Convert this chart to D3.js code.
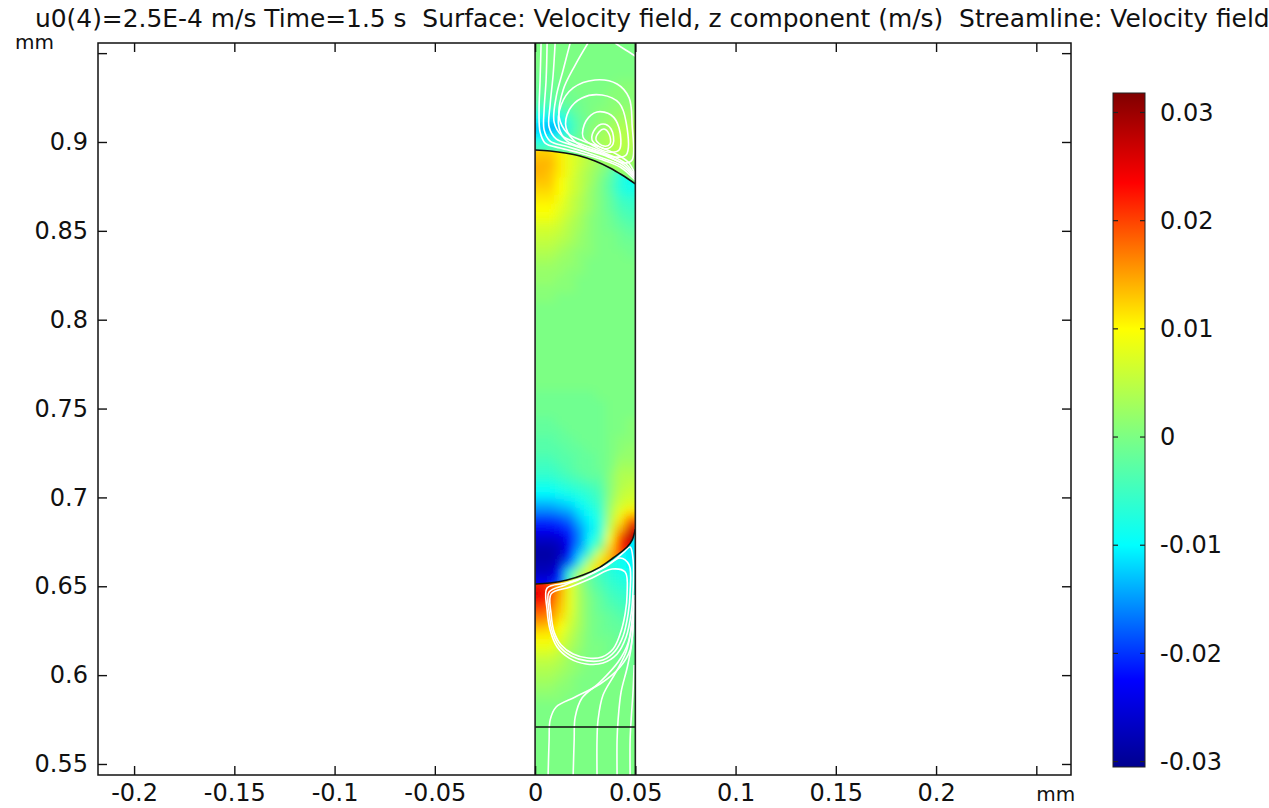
<!DOCTYPE html>
<html>
<head>
<meta charset="utf-8">
<script src="https://cdn.jsdelivr.net/npm/d3@7"></script>
<style>
    body { margin: 0; background: #fff; }
    svg { display: block; font-family: "DejaVu Sans", sans-serif; }
</style>
</head>
<body>
<svg id="chart" width="1269" height="808"></svg>
<script>
// axis limits and ticks (mm)
const xDomain = [-0.218, 0.2673];
const yDomain = [0.5438, 0.9557];
const xTicks = [-0.2, -0.15, -0.1, -0.05, 0, 0.05, 0.1, 0.15, 0.2, 0.25];
const xTickLabels = ['-0.2', '-0.15', '-0.1', '-0.05', '0', '0.05', '0.1', '0.15', '0.2', ''];
const yTicks = [0.55, 0.6, 0.65, 0.7, 0.75, 0.8, 0.85, 0.9, 0.95];
const yTickLabels = ['0.55', '0.6', '0.65', '0.7', '0.75', '0.8', '0.85', '0.9', ''];

// colour legend (m/s)
const colorTicks = [-0.03, -0.02, -0.01, 0, 0.01, 0.02, 0.03];
const colorStops = [-0.0305, -0.0225, -0.01, 0, 0.01, 0.0235, 0.0318];
const colorRange = ['#00008f', '#0000ff', '#00ffff', '#7cff84', '#ffff00', '#ff0000', '#800000'];

const titleText = 'u0(4)=2.5E-4 m/s Time=1.5 s  Surface: Velocity field, z component (m/s)  Streamline: Velocity field';

// geometry (mm)
const channelX = [0, 0.05];
const upperInterface = [[0, 0.8955], [0.0075, 0.8949], [0.015, 0.8938], [0.0224, 0.8921], [0.0299, 0.8893], [0.0374, 0.8854], [0.0434, 0.8814], [0.05, 0.8764]];
const lowerInterface = [[0, 0.6513], [0.0075, 0.6518], [0.016, 0.6535], [0.0239, 0.6563], [0.0324, 0.6608], [0.0389, 0.6659], [0.0459, 0.6721], [0.0484, 0.676], [0.05, 0.6822]];
const baseLineY = 0.5708;

// w (z velocity) sampled on cells, unit 1e-3 m/s; columns at these x centres
const cellCols = [0.0025, 0.0075, 0.0125, 0.0175, 0.0225, 0.0275, 0.0325, 0.0375, 0.0425, 0.0475];
const cellH = 0.005;

const topRows = [0.9375, 0.9325, 0.9275, 0.9225, 0.9175, 0.9125, 0.9075, 0.9025, 0.8975, 0.8925, 0.8875, 0.8825, 0.8775];
const topVals = [
    [-1, -1, 0, 0, 0, 0, 0, 0, 0, 0],
    [-1, -1, -1, 0, 0, 0, 0, 0, 1, 1],
    [-2, -2, -1, -1, 0, 0, 0, 1, 1, 1],
    [-3, -3, -2, -1, -1, 0, 0, 1, 1, 1],
    [-6, -7, -5, -3, -1, 0, 1, 1, 2, 2],
    [-10, -12, -10, -5, -2, 0, 1, 2, 3, 3],
    [-13, -15, -13, -6, -2, 1, 2, 3, 4, 4],
    [-10, -10, -7, -4, -1, 1, 3, 4, 5, 4],
    [-5, -4, -3, -2, 0, 2, 3, 4, 5, 4],
    [-3, -2, -1, -1, 0, 1, 2, 3, 4, 3],
    [-2, -1, 0, 0, 0, 1, 2, 3, 3, 2],
    [0, 0, 0, 0, 0, 0, 1, 2, 2, 1],
    [0, 0, 0, 0, 0, 0, 0, 1, 1, 0]
];

const midRows = [0.8975, 0.8925, 0.8875, 0.8825, 0.8775, 0.8725, 0.8675, 0.8625, 0.8575, 0.8525, 0.8475, 0.8425, 0.8375, 0.8325, 0.8275, 0.8225, 0.8175, 0.8125,
    0.7575, 0.7525, 0.7475, 0.7425, 0.7375, 0.7325, 0.7275, 0.7225, 0.7175, 0.7125, 0.7075, 0.7025, 0.6975, 0.6925, 0.6875, 0.6825, 0.6775, 0.6725, 0.6675, 0.6625, 0.6575, 0.6525, 0.6475];
const midVals = [
    [12, 12, 10, 8, 6, 5, 3, 2, 0, -2],
    [13, 13, 11, 8, 6, 4, 3, 1, -2, -4],
    [14, 14, 11, 8, 6, 4, 2, 0, -4, -6],
    [14, 13, 11, 8, 5, 3, 1, -2, -7, -8],
    [13, 13, 10, 7, 5, 3, 0, -3, -7, -9],
    [12, 12, 10, 7, 5, 2, 0, -3, -7, -8],
    [11, 11, 9, 6, 4, 2, 0, -2, -5, -6],
    [10, 10, 8, 6, 4, 2, 0, -2, -4, -5],
    [9, 9, 7, 5, 3, 1, 0, -1, -3, -4],
    [7, 7, 6, 4, 3, 1, 0, -1, -2, -3],
    [6, 6, 5, 4, 2, 1, 0, 0, -1, -2],
    [5, 5, 4, 3, 2, 1, 0, 0, -1, -1],
    [4, 4, 3, 2, 1, 1, 0, 0, 0, -1],
    [3, 3, 2, 2, 1, 0, 0, 0, 0, 0],
    [2, 2, 2, 1, 1, 0, 0, 0, 0, 0],
    [2, 2, 1, 1, 0, 0, 0, 0, 0, 0],
    [1, 1, 1, 1, 0, 0, 0, 0, 0, 0],
    [1, 1, 0, 0, 0, 0, 0, 0, 0, 0],
    [-1, -1, -1, -1, -1, -1, 0, 0, 0, 0],
    [-1, -1, -1, -1, -1, -1, -1, 0, 0, 0],
    [-1, -1, -1, -1, -1, -1, -1, 0, 0, 0],
    [-2, -2, -1, -1, -1, -1, -1, 0, 0, 1],
    [-2, -2, -2, -1, -1, -1, -1, 0, 0, 1],
    [-3, -3, -2, -2, -1, -1, -1, 0, 1, 1],
    [-3, -3, -3, -2, -2, -1, -1, 0, 1, 2],
    [-4, -4, -3, -3, -2, -2, -1, 0, 2, 2],
    [-5, -5, -4, -3, -2, -2, -1, 0, 3, 3],
    [-6, -6, -5, -4, -3, -2, -2, 1, 4, 4],
    [-8, -8, -7, -6, -5, -4, -3, 1, 4, 5],
    [-10, -10, -9, -8, -7, -6, -4, 1, 5, 6],
    [-13, -13, -12, -11, -9, -7, -5, 2, 6, 7],
    [-16, -16, -15, -14, -11, -9, -6, 3, 8, 11],
    [-20, -20, -19, -17, -13, -10, -7, 4, 11, 18],
    [-23, -23, -22, -20, -15, -11, -7, 6, 14, 26],
    [-26, -26, -25, -22, -16, -10, -5, 9, 20, 28],
    [-28, -28, -27, -23, -15, -8, -1, 12, 22, 26],
    [-29, -29, -27, -21, -12, -3, 8, 14, 20, 22],
    [-28, -28, -26, -17, -6, 6, 12, 14, 16, 16],
    [-27, -27, -22, -6, 4, 8, 12, 12, 14, 14],
    [-24, -24, -20, -4, 6, 8, 10, 10, 12, 12],
    [-22, -22, -16, -2, 6, 8, 10, 10, 12, 12]
];

const lowRows = [0.6875, 0.6825, 0.6775, 0.6725, 0.6675, 0.6625, 0.6575, 0.6525, 0.6475, 0.6425, 0.6375, 0.6325, 0.6275, 0.6225, 0.6175, 0.6125, 0.6075, 0.6025, 0.5975, 0.5925, 0.5875];
const lowVals = [
    [0, 0, 0, 0, 0, 0, 0, 0, -8, -10],
    [10, 10, 8, 4, 0, -2, -4, -6, -8, -10],
    [12, 12, 9, 5, 0, -3, -5, -7, -9, -11],
    [14, 14, 10, 5, 0, -3, -5, -7, -9, -11],
    [16, 15, 11, 6, 1, -3, -5, -7, -9, -11],
    [18, 17, 12, 6, 1, -3, -5, -7, -9, -10],
    [20, 19, 13, 7, 2, -2, -5, -7, -8, -9],
    [22, 20, 14, 8, 2, -2, -4, -6, -7, -8],
    [25, 22, 15, 8, 3, -1, -3, -5, -6, -7],
    [24, 21, 14, 8, 3, 0, -2, -4, -5, -6],
    [20, 18, 13, 8, 3, 0, -2, -3, -4, -5],
    [17, 16, 12, 7, 3, 0, -1, -2, -3, -4],
    [14, 13, 10, 6, 3, 0, -1, -2, -2, -3],
    [11, 11, 8, 5, 2, 0, -1, -1, -2, -2],
    [9, 9, 7, 4, 2, 0, 0, -1, -1, -2],
    [7, 7, 5, 3, 1, 0, 0, -1, -1, -1],
    [5, 5, 4, 2, 1, 0, 0, 0, -1, -1],
    [4, 4, 3, 2, 1, 0, 0, 0, 0, -1],
    [3, 3, 2, 1, 0, 0, 0, 0, 0, 0],
    [2, 2, 1, 1, 0, 0, 0, 0, 0, 0],
    [1, 1, 1, 0, 0, 0, 0, 0, 0, 0]
];

// streamlines (mm)
const openLines = [
    [[0.0030, 0.9557], [0.0025, 0.9349], [0.0020, 0.9180], [0.0025, 0.9056], [0.0050, 0.8994], [0.0125, 0.8966], [0.0224, 0.8938], [0.0324, 0.8904], [0.0424, 0.8859], [0.0499, 0.8786]],
    [[0.0060, 0.9557], [0.0055, 0.9349], [0.0045, 0.9180], [0.0045, 0.9068], [0.0075, 0.9005], [0.0150, 0.8977], [0.0249, 0.8944], [0.0349, 0.8904], [0.0434, 0.8865], [0.0499, 0.8797]],
    [[0.0100, 0.9557], [0.0090, 0.9377], [0.0075, 0.9208], [0.0070, 0.9084], [0.0105, 0.9017], [0.0185, 0.8983], [0.0274, 0.8949], [0.0364, 0.8916], [0.0444, 0.8871], [0.0499, 0.8803]],
    [[0.0175, 0.9557], [0.0140, 0.9405], [0.0105, 0.9253], [0.0095, 0.9112], [0.0135, 0.9034], [0.0214, 0.8994], [0.0299, 0.8961], [0.0384, 0.8921], [0.0454, 0.8876], [0.0499, 0.8809]],
    [[0.0264, 0.9557], [0.0200, 0.9433], [0.0140, 0.9293], [0.0120, 0.9141], [0.0160, 0.9051], [0.0239, 0.9005], [0.0324, 0.8972], [0.0404, 0.8933], [0.0464, 0.8887], [0.0499, 0.8820]],
    [[0.0399, 0.9557], [0.0444, 0.9523], [0.0499, 0.9484]],
    [[0.0065, 0.5438], [0.0070, 0.5635], [0.0075, 0.5747], [0.0105, 0.5821], [0.0200, 0.5877], [0.0324, 0.5950], [0.0424, 0.6046], [0.0474, 0.6142], [0.0489, 0.6282], [0.0494, 0.6423]],
    [[0.0190, 0.5438], [0.0195, 0.5635], [0.0200, 0.5764], [0.0234, 0.5871], [0.0324, 0.5961], [0.0414, 0.6074], [0.0464, 0.6181], [0.0484, 0.6310], [0.0494, 0.6451]],
    [[0.0309, 0.5438], [0.0309, 0.5635], [0.0314, 0.5747], [0.0339, 0.5888], [0.0404, 0.6018], [0.0454, 0.6130], [0.0479, 0.6254], [0.0494, 0.6395]],
    [[0.0409, 0.5438], [0.0409, 0.5635], [0.0414, 0.5747], [0.0429, 0.5905], [0.0459, 0.6040], [0.0479, 0.6153], [0.0489, 0.6282]],
    [[0.0474, 0.5438], [0.0474, 0.5635], [0.0479, 0.5747], [0.0489, 0.5916], [0.0494, 0.6057]]
];
const closedLines = [
    [[0.0120, 0.9079], [0.0130, 0.9208], [0.0190, 0.9304], [0.0299, 0.9349], [0.0409, 0.9326], [0.0469, 0.9248], [0.0484, 0.9096], [0.0484, 0.8899], [0.0444, 0.8882], [0.0349, 0.8927], [0.0249, 0.8966], [0.0160, 0.9005]],
    [[0.0155, 0.9079], [0.0170, 0.9180], [0.0234, 0.9248], [0.0334, 0.9264], [0.0419, 0.9219], [0.0454, 0.9112], [0.0454, 0.8927], [0.0394, 0.8916], [0.0304, 0.8949], [0.0214, 0.8989]],
    [[0.0239, 0.9028], [0.0254, 0.9118], [0.0309, 0.9169], [0.0379, 0.9152], [0.0419, 0.9079], [0.0419, 0.8955], [0.0364, 0.8944], [0.0294, 0.8977]],
    [[0.0284, 0.9011], [0.0299, 0.9073], [0.0339, 0.9101], [0.0379, 0.9073], [0.0389, 0.8989], [0.0354, 0.8961]],
    [[0.0304, 0.9011], [0.0319, 0.9056], [0.0344, 0.9073], [0.0369, 0.9045], [0.0374, 0.8989], [0.0344, 0.8977]],
    [[0.0060, 0.6490], [0.0060, 0.6367], [0.0075, 0.6254], [0.0110, 0.6158], [0.0170, 0.6096], [0.0254, 0.6063], [0.0339, 0.6068], [0.0409, 0.6119], [0.0454, 0.6214], [0.0479, 0.6344], [0.0489, 0.6479], [0.0489, 0.6648], [0.0474, 0.6721], [0.0444, 0.6693], [0.0384, 0.6637], [0.0314, 0.6591], [0.0234, 0.6547], [0.0155, 0.6518]],
    [[0.0070, 0.6468], [0.0070, 0.6355], [0.0085, 0.6248], [0.0120, 0.6164], [0.0180, 0.6108], [0.0259, 0.6080], [0.0339, 0.6085], [0.0399, 0.6136], [0.0439, 0.6220], [0.0464, 0.6344], [0.0474, 0.6468], [0.0469, 0.6620], [0.0424, 0.6659], [0.0349, 0.6608], [0.0249, 0.6552], [0.0150, 0.6507]],
    [[0.0080, 0.6457], [0.0080, 0.6344], [0.0095, 0.6243], [0.0130, 0.6170], [0.0190, 0.6119], [0.0264, 0.6096], [0.0334, 0.6102], [0.0389, 0.6147], [0.0424, 0.6231], [0.0449, 0.6344], [0.0459, 0.6457], [0.0449, 0.6580], [0.0384, 0.6597], [0.0284, 0.6547], [0.0175, 0.6496]]
];

const svg = d3.select('#chart');
const plot = { left: 98, right: 1071, top: 43, bottom: 775 };
const bar = { left: 1113, right: 1145, top: 93, bottom: 767 };

const x = d3.scaleLinear().domain(xDomain).range([plot.left, plot.right]);
const y = d3.scaleLinear().domain(yDomain).range([plot.bottom, plot.top]);
const color = d3.scaleLinear().domain(colorStops).range(colorRange).interpolate(d3.interpolateRgb).clamp(true);

const defs = svg.append('defs');
const soften = defs.append('filter').attr('id', 'soften').attr('x', '-10%').attr('y', '-10%').attr('width', '120%').attr('height', '120%');
soften.append('feGaussianBlur').attr('stdDeviation', 5);

defs.append('clipPath').attr('id', 'clip-channel').append('rect')
    .attr('x', x(channelX[0])).attr('y', plot.top)
    .attr('width', x(channelX[1]) - x(channelX[0])).attr('height', plot.bottom - plot.top);

const ifLine = d3.line().x(d => x(d[0])).y(d => y(d[1])).curve(d3.curveCatmullRom.alpha(0.5));
const upperPath = ifLine(upperInterface);
const lowerPath = ifLine(lowerInterface);
const lowerBack = ifLine(lowerInterface.slice().reverse()).replace(/^M/, 'L');

const zones = [
    { name: 'top', rows: topRows, vals: topVals, clip: `${upperPath}L${x(channelX[1])},${y(yDomain[1])}L${x(channelX[0])},${y(yDomain[1])}Z` },
    { name: 'mid', rows: midRows, vals: midVals, clip: `${upperPath}${lowerBack}Z` },
    { name: 'low', rows: lowRows, vals: lowVals, clip: `${lowerPath}L${x(channelX[1])},${y(yDomain[0])}L${x(channelX[0])},${y(yDomain[0])}Z` }
];

const last = cellCols.length - 1;
const cellW = cellCols[1] - cellCols[0];
const cellX0 = j => x(j === 0 ? -0.01 : cellCols[j] - cellW / 2);
const cellX1 = j => x(j === last ? 0.06 : cellCols[j] + cellW / 2);

zones.forEach(zone => {
    defs.append('clipPath').attr('id', `clip-${zone.name}`).append('path').attr('d', zone.clip);
    const outer = svg.append('g').attr('clip-path', 'url(#clip-channel)');
    const g = outer.append('g').attr('clip-path', `url(#clip-${zone.name})`)
        .append('g').attr('filter', 'url(#soften)');

    g.append('rect')
        .attr('x', x(-0.012)).attr('y', plot.top - 20)
        .attr('width', x(0.062) - x(-0.012)).attr('height', plot.bottom - plot.top + 40)
        .attr('fill', color(0));

    const cells = zone.rows.flatMap((ry, i) => zone.vals[i].map((v, j) => ({ ry, j, v })));
    g.selectAll('rect.cell')
        .data(cells)
        .enter()
        .append('rect')
        .attr('class', 'cell')
        .attr('x', d => cellX0(d.j))
        .attr('width', d => cellX1(d.j) - cellX0(d.j) + 0.5)
        .attr('y', d => y(d.ry + cellH / 2))
        .attr('height', d => y(d.ry - cellH / 2) - y(d.ry + cellH / 2) + 0.5)
        .attr('fill', d => color(d.v / 1000));
});

// streamlines
const sl = svg.append('g').attr('clip-path', 'url(#clip-channel)')
    .attr('fill', 'none').attr('stroke', '#fff').attr('stroke-width', 1.6);
const openGen = d3.line().x(d => x(d[0])).y(d => y(d[1])).curve(d3.curveCatmullRom.alpha(0.5));
const closedGen = d3.line().x(d => x(d[0])).y(d => y(d[1])).curve(d3.curveCatmullRomClosed.alpha(0.5));
sl.selectAll('path.open').data(openLines).enter().append('path').attr('class', 'open').attr('d', openGen);
sl.selectAll('path.closed').data(closedLines).enter().append('path').attr('class', 'closed').attr('d', closedGen);

// interfaces and boundaries
const geo = svg.append('g').attr('fill', 'none').attr('stroke', '#111').attr('stroke-width', 1.6);
geo.append('path').attr('d', upperPath);
geo.append('path').attr('d', lowerPath);
geo.append('line')
    .attr('x1', x(channelX[0])).attr('x2', x(channelX[1]))
    .attr('y1', y(baseLineY)).attr('y2', y(baseLineY));
channelX.forEach(cx => {
    geo.append('line').attr('x1', x(cx)).attr('x2', x(cx)).attr('y1', plot.top).attr('y2', plot.bottom).attr('stroke', '#222');
});

// axes
const tickLen = 9;
const styleAxis = g => {
    g.select('.domain').remove();
    g.selectAll('.tick line').attr('stroke', '#111').attr('stroke-width', 1.4);
    g.selectAll('.tick text').attr('fill', '#111').style('font-size', '24px').style('font-family', '"DejaVu Sans", sans-serif');
};

svg.append('g').attr('transform', `translate(0,${plot.bottom})`)
    .call(d3.axisBottom(x).tickValues(xTicks).tickSize(-tickLen).tickPadding(9).tickFormat((d, i) => xTickLabels[i]))
    .call(styleAxis);
svg.append('g').attr('transform', `translate(0,${plot.top})`)
    .call(d3.axisTop(x).tickValues(xTicks).tickSize(-tickLen).tickFormat(''))
    .call(styleAxis);
svg.append('g').attr('transform', `translate(${plot.left},0)`)
    .call(d3.axisLeft(y).tickValues(yTicks).tickSize(-tickLen).tickPadding(10).tickFormat((d, i) => yTickLabels[i]))
    .call(styleAxis);
svg.append('g').attr('transform', `translate(${plot.right},0)`)
    .call(d3.axisRight(y).tickValues(yTicks).tickSize(-tickLen).tickFormat(''))
    .call(styleAxis);

svg.append('rect')
    .attr('x', plot.left).attr('y', plot.top)
    .attr('width', plot.right - plot.left).attr('height', plot.bottom - plot.top)
    .attr('fill', 'none').attr('stroke', '#111').attr('stroke-width', 1.5);

// unit labels
svg.append('text').attr('x', x(0.25)).attr('y', 801).attr('fill', '#111').style('font-size', '20px').text('mm');
svg.append('text').attr('x', 15).attr('y', y(0.95) - 4).attr('fill', '#111').style('font-size', '20px').text('mm');

// title
svg.append('text').attr('x', 35).attr('y', 27).attr('fill', '#111').style('font-size', '24.9px').style('white-space', 'pre').text(titleText);

// colour bar
const cScale = d3.scaleLinear().domain([colorStops[0], colorStops[colorStops.length - 1]]).range([bar.bottom, bar.top]);
const grad = defs.append('linearGradient').attr('id', 'cbar').attr('x1', 0).attr('y1', 1).attr('x2', 0).attr('y2', 0);
colorStops.forEach((v, i) => {
    grad.append('stop')
        .attr('offset', (v - colorStops[0]) / (colorStops[colorStops.length - 1] - colorStops[0]))
        .attr('stop-color', colorRange[i]);
});
svg.append('rect')
    .attr('x', bar.left).attr('y', bar.top)
    .attr('width', bar.right - bar.left).attr('height', bar.bottom - bar.top)
    .attr('fill', 'url(#cbar)').attr('stroke', '#222').attr('stroke-width', 1);

const cb = svg.append('g');
cb.selectAll('line.l').data(colorTicks).enter().append('line')
    .attr('x1', bar.left).attr('x2', bar.left + 5)
    .attr('y1', d => cScale(d)).attr('y2', d => cScale(d))
    .attr('stroke', '#222').attr('stroke-width', 1.2);
cb.selectAll('line.r').data(colorTicks).enter().append('line')
    .attr('x1', bar.right - 5).attr('x2', bar.right)
    .attr('y1', d => cScale(d)).attr('y2', d => cScale(d))
    .attr('stroke', '#222').attr('stroke-width', 1.2);
svg.append('g').attr('transform', `translate(${bar.right},0)`)
    .call(d3.axisRight(cScale).tickValues(colorTicks).tickSize(0).tickPadding(15).tickFormat(d => String(d)))
    .call(styleAxis);
</script>
</body>
</html>
